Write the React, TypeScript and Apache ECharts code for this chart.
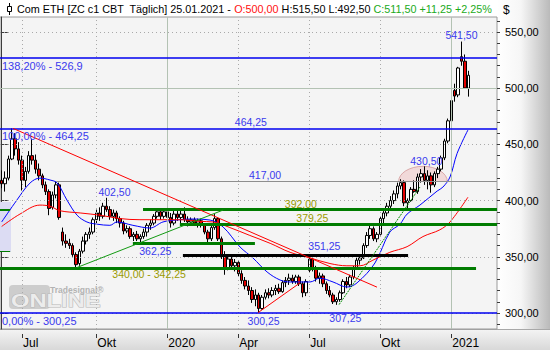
import { useEffect, useRef } from 'react';
import * as echarts from 'echarts';

const FONT = '"Liberation Sans", Arial, sans-serif';

// ---- candle data (one candle per ~3 trading days, slot index = position) ----
const SLOT_COUNT = 147;
const opens = [
  418, 415, 420, 437, 455, 446, 436, 418, 426, 440,
  436, 428, 422, 414, 408, 394, 405, 414, 372, 364,
  362, 360, 352, 344, 355, 364, 370, 372, 383, 389,
  386, 395, 392, 386, 389, 384, 380, 373, 375, 368,
  370, 366, 368, 372, 378, 380, 386, 390, 386, 390,
  385, 380, 388, 385, 388, 383, 381, 383, 380, 382,
  378, 372, 366, 376, 384, 366, 350, 340, 348, 342,
  345, 335, 329, 324, 320, 312, 316, 304, 314, 318,
  316, 320, 322, 319, 327, 329, 331, 328, 332, 326,
  318, 338, 348, 340, 331, 333, 326, 320, 316, 310,
  312, 318, 328, 325, 332, 340, 347, 349, 360, 369,
  375, 366, 370, 384, 389, 395, 400, 406, 413, 416,
  398, 400, 410, 408, 421, 424, 418, 422, 414, 424,
  428, 438, 453, 471, 498, 494, 528, 524, 500,
];
const highs = [
  427, 426, 440, 464.25, 460, 452, 440, 430, 444, 455,
  441, 433, 424, 417, 410, 408, 417, 416, 376, 370,
  366, 362, 354, 357, 368, 372, 376, 385, 392, 394,
  398, 402.5, 395, 392, 391, 386, 382, 378, 377, 372,
  373, 370, 375, 380, 383, 388, 392, 392, 392, 391,
  389, 391, 391, 392, 394, 386, 385, 385, 384, 384,
  380, 374, 378, 388, 385, 368, 355, 352, 350, 348,
  346, 338, 332, 329, 323, 321, 318, 316, 321, 322,
  323, 325, 326, 329, 332, 335, 334, 334, 334, 328,
  330, 351.25, 350, 342, 336, 335, 328, 324, 318, 314,
  320, 330, 332, 334, 342, 350, 352, 362, 372, 378,
  377, 372, 386, 392, 398, 404, 409, 416, 419, 418,
  402, 412, 418, 424, 428, 430.5, 427, 425, 426, 430,
  440, 455, 473, 492, 504, 519, 541.5, 530, 515.5,
];
const lows = [
  411, 408, 418, 436, 440, 432, 409, 412, 424, 432,
  424, 418, 411, 405, 387, 392, 402, 383, 360, 358,
  357, 350, 340, 342, 353, 361, 366, 370, 380, 382,
  384, 390, 383, 382, 380, 376, 370, 371, 366, 364,
  364, 362.25, 366, 368, 374, 378, 384, 383, 384, 382,
  376, 378, 382, 380, 381, 377, 378, 378, 376, 376,
  370, 363, 364, 374, 364, 348, 334, 338, 339, 337,
  332, 326, 321, 316, 309, 306, 300.25, 303, 312, 313,
  314, 316, 317, 318, 323, 325, 326, 326, 324, 314,
  315, 336, 337, 328, 326, 323, 317, 314, 308, 307.25,
  310, 317, 322, 323, 330, 339, 343, 348, 358, 366,
  364, 363, 369, 380, 386, 391, 397, 402, 410, 395,
  393, 399, 407, 406, 416, 414, 410, 407, 412, 420,
  426, 436, 451, 469, 488, 492, 520, 500, 492.5,
];
const closes = [
  415, 420, 437, 455, 446, 436, 418, 426, 440, 436,
  428, 422, 414, 408, 393, 405, 414, 385, 364, 362,
  360, 352, 343, 355, 364, 370, 372, 383, 389, 386,
  395, 392, 386, 389, 384, 380, 373, 375, 368, 370,
  366, 368, 372, 378, 380, 386, 390, 386, 390, 385,
  380, 388, 385, 388, 383, 381, 383, 380, 382, 378,
  372, 366, 376, 384, 366, 351, 340, 348, 342, 345,
  335, 329, 324, 320, 312, 316, 304, 314, 318, 316,
  320, 322, 319, 327, 329, 331, 328, 332, 326, 318,
  328, 348, 340, 331, 333, 326, 320, 316, 310, 312,
  318, 328, 325, 332, 340, 347, 349, 360, 369, 375,
  366, 370, 384, 389, 395, 400, 406, 413, 416, 398,
  400, 410, 408, 421, 424, 418, 422, 414, 424, 428,
  438, 453, 471, 489, 493, 518, 524, 500.25, 511.5,
];

// ---- moving averages: [slot, price] ----
const blueMA = [
  [0, 381], [4.5, 400.5], [8.4, 415.7], [11.3, 420], [14.3, 418.3], [16.4, 415.7],
  [19.3, 400.5], [22.3, 387], [25.2, 381], [28.2, 379], [32, 378], [34.1, 381],
  [38.8, 378], [43.9, 375.6], [47.7, 381], [51.8, 382.7], [55.7, 383.6], [61.6, 382.7],
  [65.5, 376.5], [70.5, 358.7], [74.3, 349], [78.5, 336.5], [82.3, 329.4], [85.3, 327.6],
  [91.2, 327.6], [94.1, 331], [98, 327.6], [102.1, 323.1], [105.1, 326.8], [110.4, 344.5],
  [114.8, 372], [117.8, 379], [119.9, 388], [123.7, 396], [128.8, 408.5], [130.5, 412],
  [132.6, 421], [134.7, 442], [137.9, 462.8],
];
const redMA = [
  [0, 377], [5.4, 388], [11.3, 396], [14.3, 395], [17.2, 391], [23.2, 389], [29.1, 387],
  [35, 384], [40.9, 383], [46.8, 383], [52.7, 383], [58.7, 381.5], [62.5, 381], [67.5, 376],
  [73.4, 369], [79.4, 362], [85.3, 354], [91.2, 349], [97.1, 344], [102.1, 342], [106, 342],
  [109.8, 347], [114.8, 354], [119.9, 359], [124.6, 368], [129.6, 374], [132.6, 381],
  [137.9, 403],
];

// ---- axis ticks ----
const quarterTickSlots = [6, 28, 49, 70, 91, 112, 133];
const quarterTickLabels = ['Jul', 'Okt', '2020', 'Apr', 'Jul', 'Okt', '2021'];
const yearTickSlots = [49, 133];
const priceTicks = [300, 350, 400, 450, 500, 550];
const minorPriceTicks = [290, 300, 310, 320, 330, 340, 350, 360, 370, 380, 390, 400, 410, 420, 430, 440, 450, 460, 470, 480, 490, 500, 510, 520, 530, 540, 550, 560];
const Y_MIN = 285.76;
const Y_MAX = 563.35;
const X_MIN = -0.5;
const X_MAX = SLOT_COUNT - 0.5;

// ---- annotations ----
const fibPercents = ['138,20%', '100,00%', '0,00%'];
const fibPrices = [526.9, 464.25, 300.25];
const greenLevels = [392, 379.25, 362.25, 340];
const greenStarts = [41.8, 52.7, 38.8, X_MIN];
const greenEnds = [X_MAX, X_MAX, 74.9, 140.3];
const blackLevel = 351.25;
const blackSpan = [53.6, 120.2];
const grayLevel = 417;
const grayStart = 16.1;
const redTrend = [[3.35, 464.25], [111, 323]];
const redUpTrend = [[75.8, 300.25], [88.2, 326.7]];
const greenUpTrend = [[22.3, 340.5], [65.5, 391.6]];
const greenDottedTrend = [[99.8, 307.5], [123.7, 412]];
const pinkArc = { from: 117.4, to: 131.8, base: 417, top: 430.5 };

// price tags: [text price, anchor slot, anchor price, dx, dy]
const blueTags: [number, number, number, number, number][] = [
  [541.5, 136, 541.5, 0, -7],
  [430.5, 125, 430.5, 2, -5],
  [402.5, 31, 402.5, 8, -6],
  [362.25, 41, 362.25, 15, 8],
  [300.25, 76, 300.25, 5, 8],
  [307.25, 99, 307.25, 9, 13],
  [351.25, 91, 351.25, 15, -9],
  [464.25, 73.7, 464.25, 0, -6],
  [417, 77.9, 417, 0, -6],
];
const oliveTags: [string, number, number, number][] = [
  ['392,00', 88.5, 392, -6],
  ['379,25', 91.9, 379.25, -6],
  ['340,00 - 342,25', 43.6, 340, 6],
];

const fmt = (v: number, d = 2) => v.toFixed(d).replace('.', ',');

function seg(x1: number, y1: number, x2: number, y2: number, lineStyle: any) {
  return [{ coord: [x1, y1], lineStyle }, { coord: [x2, y2] }];
}

function buildOption() {
  const cats = Array.from({ length: SLOT_COUNT }, (_, i) => String(i));
  const candles = opens.map((o, i) => [o, closes[i], lows[i], highs[i]]);

  const dotted = { color: '#a9a9a9', width: 1, type: [1, 3] };
  const solidGrid = { color: '#b3c2b3', width: 1, type: 'solid' };
  const gridLines: any[] = [];
  quarterTickSlots.forEach((s) => {
    gridLines.push(seg(s, Y_MIN, s, Y_MAX, yearTickSlots.includes(s) ? solidGrid : dotted));
  });
  priceTicks.forEach((p) => {
    gridLines.push(seg(X_MIN, p, X_MAX, p, p === 500 ? solidGrid : dotted));
  });

  const ann: any[] = [];
  greenLevels.forEach((p, i) => {
    ann.push(seg(greenStarts[i], p, greenEnds[i], p, { color: '#007c00', width: 3, type: 'solid' }));
  });
  ann.push(seg(blackSpan[0], blackLevel, blackSpan[1], blackLevel, { color: '#000', width: 3, type: 'solid' }));
  ann.push(seg(grayStart, grayLevel, X_MAX, grayLevel, { color: '#8e8e8e', width: 1, type: 'solid' }));
  fibPrices.forEach((p) => {
    ann.push(seg(X_MIN, p, X_MAX, p, { color: '#0000f0', width: 1.5, type: 'solid' }));
  });
  ann.push(seg(redTrend[0][0], redTrend[0][1], redTrend[1][0], redTrend[1][1], { color: '#ff0000', width: 1, type: 'solid' }));
  ann.push(seg(redUpTrend[0][0], redUpTrend[0][1], redUpTrend[1][0], redUpTrend[1][1], { color: '#ff0000', width: 1, type: 'solid' }));
  ann.push(seg(greenUpTrend[0][0], greenUpTrend[0][1], greenUpTrend[1][0], greenUpTrend[1][1], { color: '#129a12', width: 1, type: 'solid' }));
  ann.push(seg(greenDottedTrend[0][0], greenDottedTrend[0][1], greenDottedTrend[1][0], greenDottedTrend[1][1], { color: '#008a00', width: 1, type: [2, 1] }));
  ann.push(seg(X_MIN, 392, 2.5, 392, { color: '#007c00', width: 2, type: 'solid' }));
  ann.push(seg(X_MIN, 355, 2.5, 355, { color: '#007c00', width: 1, type: 'solid' }));

  const ml = (data: any[]) => ({
    silent: true,
    symbol: ['none', 'none'],
    label: { show: false },
    emphasis: { disabled: true },
    animation: false,
    data,
  });

  return {
    animation: false,
    backgroundColor: 'transparent',
    grid: {
      left: 0, right: 53, top: 17, bottom: 21,
      show: true, backgroundColor: '#f4f4f4', borderColor: '#9a9a9a', borderWidth: 1,
    },
    xAxis: [
      { type: 'category', data: cats, boundaryGap: true, show: false },
      {
        type: 'value', min: X_MIN, max: X_MAX, position: 'bottom', offset: 5,
        axisLine: { show: false },
        axisTick: { show: true, customValues: quarterTickSlots, length: 4, lineStyle: { color: '#333' } },
        axisLabel: {
          show: true, customValues: quarterTickSlots, margin: 3,
          formatter: (v: number) => quarterTickLabels[quarterTickSlots.indexOf(Math.round(v))] ?? '',
          align: 'left', padding: [0, 0, 0, 1], color: '#000', fontSize: 12, fontFamily: FONT,
        },
        splitLine: { show: false },
      },
    ],
    yAxis: [
      {
        type: 'value', position: 'right', min: Y_MIN, max: Y_MAX, scale: true,
        axisLine: { show: true, lineStyle: { color: '#3c3c3c' } },
        axisTick: { show: true, customValues: priceTicks, length: 6, lineStyle: { color: '#3c3c3c' } },
        axisLabel: {
          show: true, customValues: priceTicks, margin: 8,
          formatter: (v: number) => fmt(v), color: '#000', fontSize: 11, fontFamily: FONT,
        },
        splitLine: { show: false },
      },
      {
        type: 'value', position: 'right', min: Y_MIN, max: Y_MAX, scale: true,
        axisLine: { show: false },
        axisTick: { show: true, customValues: minorPriceTicks, length: 3, lineStyle: { color: '#3c3c3c' } },
        axisLabel: { show: false },
        splitLine: { show: false },
      },
    ],
    series: [
      {
        name: 'gridHost', type: 'line', xAxisIndex: 1, yAxisIndex: 0, data: [], z: 1,
        silent: true, symbol: 'none',
        markLine: ml(gridLines),
        markArea: {
          silent: true,
          data: [[{ coord: [X_MIN, 398.8], itemStyle: { color: '#dcdcf3' } }, { coord: [2.75, 354.3] }]],
        },
      },
      {
        name: 'ZC', type: 'candlestick', xAxisIndex: 0, yAxisIndex: 0, data: candles, z: 3,
        barWidth: 3,
        itemStyle: { color: '#ffffff', color0: '#e40000', borderColor: '#000', borderColor0: '#000', borderWidth: 1 },
      },
      {
        name: 'MA blue', type: 'line', xAxisIndex: 1, yAxisIndex: 0, data: blueMA, z: 4,
        symbol: 'none', smooth: 0.35, silent: true,
        lineStyle: { color: '#0000ff', width: 1 },
      },
      {
        name: 'MA red', type: 'line', xAxisIndex: 1, yAxisIndex: 0, data: redMA, z: 4,
        symbol: 'none', smooth: 0.35, silent: true,
        lineStyle: { color: '#ff0000', width: 1 },
      },
      {
        name: 'annotations', type: 'line', xAxisIndex: 1, yAxisIndex: 0, data: [], z: 5,
        silent: true, symbol: 'none',
        markLine: ml(ann),
      },
    ],
  };
}

function buildGraphic(px: (s: number, p: number) => number[]) {
  const blue = '#3a3aee';
  const olive = '#9a9a00';
  const els: any[] = [];
  const txt = (text: string, x: number, y: number, fill: string, fontSize: number, align = 'center', extra: any = {}) => ({
    type: 'text', x, y, z: 20,
    style: { text, fill, fontSize, fontFamily: FONT, align, verticalAlign: 'middle', ...extra },
  });

  // pink arc
  const l = px(pinkArc.from, pinkArc.base);
  const r = px(pinkArc.to, pinkArc.base);
  const t = px(pinkArc.from, pinkArc.top);
  const rad = (r[0] - l[0]) / 2;
  els.push({
    type: 'sector', x: (l[0] + r[0]) / 2, y: l[1], scaleY: (l[1] - t[1]) / rad, z: 1,
    shape: { cx: 0, cy: 0, r0: 0, r: rad, startAngle: Math.PI, endAngle: Math.PI * 2, clockwise: true },
    style: { fill: 'rgba(238,190,190,0.5)', stroke: '#d49a9a', lineWidth: 1 },
  });

  // fib labels
  fibPrices.forEach((p, i) => {
    const q = px(X_MIN, p);
    els.push(txt(`${fibPercents[i]} - ${fmt(p, p === 526.9 ? 1 : 2)}`, q[0] + 2, q[1] + 8, blue, 11, 'left'));
  });
  blueTags.forEach(([v, s, p, dx, dy]) => {
    const q = px(s, p);
    els.push(txt(fmt(v), q[0] + dx, q[1] + dy, blue, 10.5));
  });
  oliveTags.forEach(([text, s, p, dy]) => {
    const q = px(s, p);
    els.push(txt(text, q[0], q[1] + dy, olive, 10.5));
  });

  // title bar
  const n = closes.length - 1;
  const chg = closes[n] - closes[n - 1];
  const pct = (chg / closes[n - 1]) * 100;
  const title =
    `{k|Com ETH [ZC c1 CBT  Täglich] 25.01.2021 - }{r|O:${fmt(opens[n])}}{k| H:${fmt(highs[n])} L:${fmt(lows[n])} }` +
    `{g|C:${fmt(closes[n])} ${chg >= 0 ? '+' : ''}${fmt(chg)} ${pct >= 0 ? '+' : ''}${fmt(pct)}%}`;
  els.push({
    type: 'text', x: 17, y: 9, z: 20,
    style: {
      text: title, fontSize: 10.8, fontFamily: FONT, verticalAlign: 'middle', align: 'left',
      rich: { k: { fill: '#000' }, r: { fill: '#ff1010' }, g: { fill: '#1aaa1a' } },
    },
  });
  els.push({ type: 'line', z: 20, shape: { x1: 9.5, y1: 3, x2: 9.5, y2: 15 }, style: { stroke: '#000', lineWidth: 1 } });
  els.push({ type: 'rect', z: 21, shape: { x: 7.5, y: 6.5, width: 4, height: 5 }, style: { fill: '#fff', stroke: '#000', lineWidth: 1 } });
  els.push(txt('$', 503, 10, '#000', 12, 'left'));

  // watermark
  els.push({ type: 'rect', z: 1, shape: { x: 9, y: 285, width: 41, height: 24, r: 4 }, style: { fill: '#cdcdcd' } });
  els.push({
    type: 'text', x: 11, y: 301, z: 1, scaleX: 1.32,
    style: { text: 'ONLINE', fontSize: 18, fontWeight: 'bold', fontFamily: FONT, fill: '#ececec', stroke: '#b9b9b9', lineWidth: 1, verticalAlign: 'middle', align: 'left' },
  });
  els.push({
    type: 'text', x: 50, y: 290, z: 1,
    style: { text: 'Tradesignal®', fontSize: 8.5, fontWeight: 'bold', fontFamily: FONT, fill: '#b3b3b3', verticalAlign: 'middle', align: 'left' },
  });
  return els;
}

export default function App() {
  const ref = useRef<HTMLDivElement>(null);
  useEffect(() => {
    const el = ref.current;
    if (!el) return;
    const chart = echarts.init(el, undefined, { renderer: 'svg', width: 550, height: 350 });
    chart.setOption(buildOption() as any);
    const px = (s: number, p: number) => chart.convertToPixel({ seriesIndex: 2 }, [s, p]) as number[];
    chart.setOption({ graphic: buildGraphic(px) } as any);
    return () => chart.dispose();
  }, []);
  return (
    <div style={{ position: 'fixed', left: 0, top: 0, width: 550, height: 350, background: '#fff', overflow: 'hidden' }}>
      <div style={{ position: 'absolute', left: 497, top: 0, width: 53, height: 329, background: 'linear-gradient(to right, #ffffff 0%, #f6f6f6 45%, #bababa 100%)' }} />
      <div style={{ position: 'absolute', left: 0, top: 329, width: 550, height: 21, background: 'linear-gradient(#f3f3f3, #d8d8d8)', borderTop: '1px solid #a8a8a8', boxSizing: 'border-box' }} />
      <div ref={ref} style={{ position: 'absolute', left: 0, top: 0, width: 550, height: 350 }} />
    </div>
  );
}
